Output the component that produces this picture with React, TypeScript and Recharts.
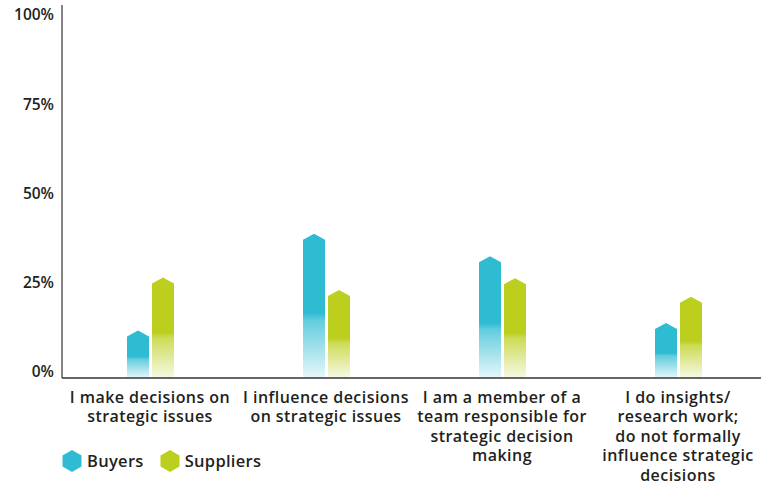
import React from 'react';
import { BarChart, Bar, XAxis, YAxis } from 'recharts';

const categories = [
  'I make decisions on strategic issues',
  'I influence decisions on strategic issues',
  'I am a member of a team responsible for strategic decision making',
  'I do insights/ research work; do not formally influence strategic decisions',
];
const categoryLines = [
  ['I make decisions on', 'strategic issues'],
  ['I influence decisions', 'on strategic issues'],
  ['I am a member of a', 'team responsible for', 'strategic decision', 'making'],
  ['I do insights/', 'research work;', 'do not formally', 'influence strategic', 'decisions'],
];
const buyers = [11.6, 38.7, 32.4, 13.7];
const suppliers = [26.5, 23, 26.3, 21.1];
const seriesNames = ['Buyers', 'Suppliers'];
const seriesColors = ['#2fbcd3', '#bccf1f'];
const yTicks = [0, 25, 50, 75, 100];

const data = categories.map((c, i) => ({ name: c, buyers: buyers[i], suppliers: suppliers[i] }));

const FONT = '"Open Sans", "Noto Sans", sans-serif';
const TEXT = '#231f20';

const ArrowBar = (props: any) => {
  const { x, y, width, height, fill } = props;
  if (!height || height <= 0) return null;
  const p = 6;
  const d = `M${x},${y + height} L${x},${y} L${x + width / 2},${y - p} L${x + width},${y} L${x + width},${y + height} Z`;
  return <path d={d} fill={fill} />;
};

const XTick = (props: any) => {
  const { x, y, payload } = props;
  const lines = categoryLines[payload.index] || [String(payload.value)];
  return (
    <text x={x} y={y + 17} textAnchor="middle" fill={TEXT} fontFamily={FONT} fontWeight={600} fontSize={16} letterSpacing={0.45}>
      {lines.map((l: string, i: number) => (
        <tspan key={i} x={x} dy={i === 0 ? 0 : 19.4}>{l}</tspan>
      ))}
    </text>
  );
};

const YTick = (props: any) => {
  const { x, y, payload } = props;
  return (
    <text x={x} y={y - 6} dy="0.35em" textAnchor="end" fill={TEXT} fontFamily={FONT} fontWeight={600} fontSize={15.5}>
      {payload.value}%
    </text>
  );
};

const Hex = ({ color }: { color: string }) => (
  <svg width={20} height={22} style={{ display: 'block' }}>
    <polygon points="10,0 19.5,5.5 19.5,16.5 10,22 0.5,16.5 0.5,5.5" fill={color} />
  </svg>
);

export default function App() {
  return (
    <div style={{ position: 'absolute', left: 0, top: 0, width: 761, height: 484, overflow: 'hidden', background: '#fff' }}>
      <BarChart width={770} height={484} data={data} margin={{ top: 5, right: 4, bottom: 0, left: 0 }} barSize={22} barGap={3}>
        <defs>
          <linearGradient id="gB" x1="0" y1="0" x2="0" y2="1">
            <stop offset="0" stopColor={seriesColors[0]} stopOpacity={1} />
            <stop offset="0.55" stopColor={seriesColors[0]} stopOpacity={1} />
            <stop offset="0.6" stopColor={seriesColors[0]} stopOpacity={0.75} />
            <stop offset="1" stopColor={seriesColors[0]} stopOpacity={0.12} />
          </linearGradient>
          <linearGradient id="gS" x1="0" y1="0" x2="0" y2="1">
            <stop offset="0" stopColor={seriesColors[1]} stopOpacity={1} />
            <stop offset="0.55" stopColor={seriesColors[1]} stopOpacity={1} />
            <stop offset="0.6" stopColor={seriesColors[1]} stopOpacity={0.75} />
            <stop offset="1" stopColor={seriesColors[1]} stopOpacity={0.12} />
          </linearGradient>
        </defs>
        <XAxis dataKey="name" height={106} tickLine={false} axisLine={{ stroke: '#333', strokeWidth: 1.5 }} tick={<XTick />} interval={0} />
        <YAxis width={62} domain={[0, 104.5]} ticks={yTicks} tickLine={false} axisLine={{ stroke: '#333', strokeWidth: 1.2 }} tick={<YTick />} interval={0} />
        <Bar dataKey="buyers" name={seriesNames[0]} fill="url(#gB)" shape={<ArrowBar />} isAnimationActive={false} />
        <Bar dataKey="suppliers" name={seriesNames[1]} fill="url(#gS)" shape={<ArrowBar />} isAnimationActive={false} />
      </BarChart>
      <div style={{ position: 'absolute', left: 62, top: 449, display: 'flex', alignItems: 'center', fontFamily: FONT, fontWeight: 600, fontSize: 16.5, color: TEXT }}>
        {seriesNames.map((n, i) => (
          <div key={n} style={{ display: 'flex', alignItems: 'center', marginRight: 16 }}>
            <Hex color={seriesColors[i]} />
            <span style={{ marginLeft: 5, letterSpacing: 0.3 }}>{n}</span>
          </div>
        ))}
      </div>
    </div>
  );
}
